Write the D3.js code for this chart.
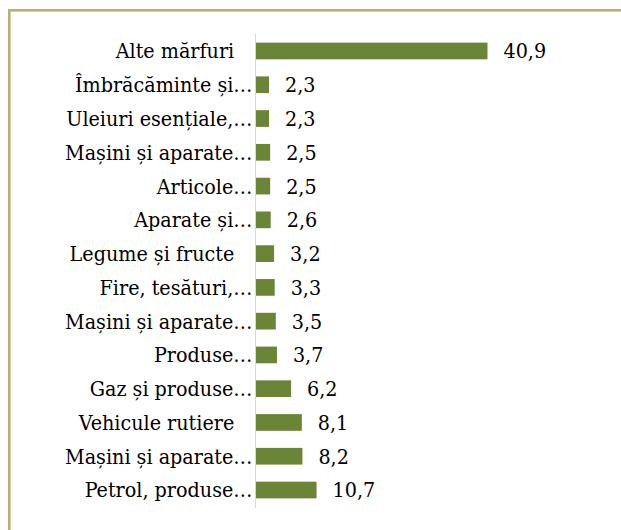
<!DOCTYPE html>
<html>
<head>
<meta charset="utf-8">
<script src="https://cdn.jsdelivr.net/npm/d3@7"></script>
<style>
  html, body { margin: 0; padding: 0; background: #fff; }
  svg { display: block; }
  .lbl text { white-space: pre; }
</style>
</head>
<body>
<svg id="chart" width="621" height="530"></svg>
<script>
// Export structure, share of total (%)
const categories = [
  "Alte mărfuri\u00a0\u00a0\u00a0",
  "Îmbrăcăminte și…",
  "Uleiuri esențiale,…",
  "Mașini și aparate…",
  "Articole…",
  "Aparate și…",
  "Legume și fructe\u00a0\u00a0\u00a0",
  "Fire, tesături,…",
  "Mașini și aparate…",
  "Produse…",
  "Gaz și produse…",
  "Vehicule rutiere\u00a0\u00a0\u00a0",
  "Mașini și aparate…",
  "Petrol, produse…"
];
const values = [40.9, 2.3, 2.3, 2.5, 2.5, 2.6, 3.2, 3.3, 3.5, 3.7, 6.2, 8.1, 8.2, 10.7];
const xDomain = [0, 45];

const svg = d3.select("#chart");
const fontFamily = "'DejaVu Serif Condensed', 'DejaVu Serif', serif";
const fontSize = 21.3;
const ro = d3.formatLocale({decimal: ",", thousands: ".", grouping: [3], currency: ["", " lei"]});
const fmt = ro.format(".1f");

// chart frame (extends past the right and bottom edges)
svg.append("rect")
  .attr("x", 9.5).attr("y", 10.5)
  .attr("width", 700).attr("height", 600)
  .attr("fill", "none")
  .attr("stroke", "#B8AE78")
  .attr("stroke-width", 3);
svg.append("rect")
  .attr("x", 10.5).attr("y", 11.5)
  .attr("width", 700).attr("height", 600)
  .attr("fill", "none")
  .attr("stroke", "#D6D0A8")
  .attr("stroke-width", 1);

const idx = d3.range(categories.length);
const x = d3.scaleLinear().domain(xDomain).range([256, 510.7]);
const y = d3.scaleBand().domain(idx).range([34.1, 506.9]).paddingInner(0.505).paddingOuter(0.2525);

// category axis
const axis = d3.axisLeft(y)
  .tickSize(0)
  .tickPadding(3)
  .tickFormat(i => categories[i]);
const gAxis = svg.append("g")
  .attr("class", "lbl")
  .attr("transform", `translate(${x(0) - 0.5},0)`)
  .call(axis);
gAxis.select(".domain")
  .attr("d", `M0,${y.range()[0]}V${y.range()[1] + 1}`)
  .attr("stroke", "#D9D9D9")
  .attr("stroke-width", 1);
gAxis.selectAll("text")
  .attr("font-family", fontFamily)
  .attr("font-stretch", "condensed")
  .attr("font-size", fontSize)
  .attr("fill", "#000")
  .attr("dy", "0.35em");

// bars
svg.append("g").selectAll("rect")
  .data(idx)
  .join("rect")
  .attr("x", x(0))
  .attr("y", i => y(i))
  .attr("width", i => x(values[i]) - x(0))
  .attr("height", y.bandwidth())
  .attr("fill", "#6B8537");

// value labels
svg.append("g").selectAll("text")
  .data(idx)
  .join("text")
  .attr("x", i => x(values[i]) + 16)
  .attr("y", i => y(i) + y.bandwidth() / 2)
  .attr("dy", "0.35em")
  .attr("font-family", fontFamily)
  .attr("font-stretch", "condensed")
  .attr("font-size", fontSize)
  .attr("fill", "#000")
  .text(i => fmt(values[i]));
</script>
</body>
</html>
